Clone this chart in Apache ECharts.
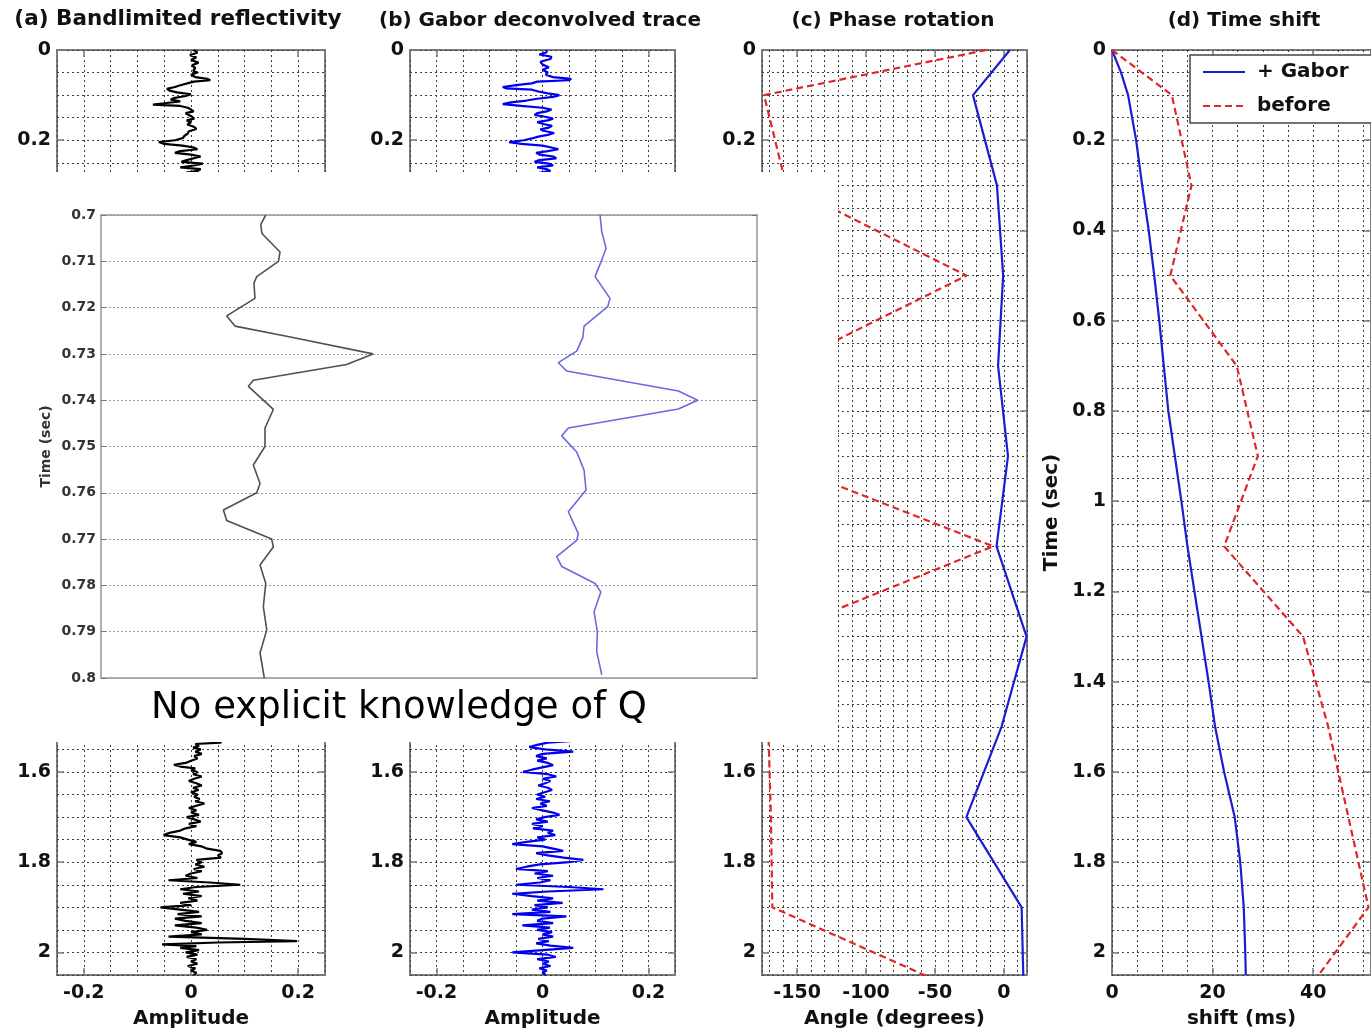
<!DOCTYPE html>
<html><head><meta charset="utf-8">
<script src="https://cdn.jsdelivr.net/npm/echarts@6/dist/echarts.min.js"></script>
<style>html,body{margin:0;padding:0;background:#fff}#c{width:1371px;height:1034px}</style>
</head><body><div id="c"></div>
<script>
// ---------------- DATA ----------------
// (a) bandlimited reflectivity: [time (s), amplitude]
const reflTop = [[0,0.005],[0.006,0.012],[0.011,-0.002],[0.016,0.01],[0.022,0.0],[0.028,0.014],[0.034,0.002],[0.04,0.008],[0.046,0.004],[0.05,0.012],[0.055,0.0],[0.06,0.008],[0.064,0.03],[0.067,0.036],[0.07,0.005],[0.074,-0.007],[0.078,-0.02],[0.082,-0.03],[0.086,-0.045],[0.09,-0.04],[0.094,-0.026],[0.098,0.0],[0.102,-0.01],[0.106,-0.03],[0.11,-0.038],[0.114,-0.02],[0.118,-0.05],[0.121,-0.071],[0.124,-0.02],[0.128,-0.006],[0.132,0.0],[0.136,0.005],[0.14,-0.01],[0.144,-0.012],[0.148,0.002],[0.152,0.006],[0.156,-0.008],[0.16,0.0],[0.165,-0.007],[0.17,0.005],[0.175,0.01],[0.18,-0.004],[0.185,-0.006],[0.19,-0.012],[0.195,-0.015],[0.2,-0.03],[0.204,-0.06],[0.208,-0.05],[0.212,-0.016],[0.216,0.005],[0.22,0.012],[0.224,-0.02],[0.228,-0.03],[0.232,0.0],[0.236,0.018],[0.24,0.02],[0.244,-0.008],[0.248,-0.018],[0.252,0.022],[0.256,0.005],[0.26,-0.02],[0.264,0.018],[0.268,0.012],[0.272,-0.01],[0.28,0.004]];
const reflBottom = [[1.52,0.01],[1.53,0.058],[1.535,0.055],[1.538,0.008],[1.542,0.015],[1.546,0.004],[1.55,0.018],[1.555,0.008],[1.56,0.02],[1.565,0.006],[1.57,0.012],[1.575,0.0],[1.58,-0.01],[1.584,-0.032],[1.588,-0.02],[1.592,0.008],[1.596,0.0],[1.6,0.012],[1.605,0.004],[1.61,0.02],[1.615,0.006],[1.62,-0.004],[1.625,0.01],[1.63,0.02],[1.635,0.004],[1.64,0.014],[1.645,0.0],[1.65,0.012],[1.655,0.006],[1.66,0.016],[1.665,0.008],[1.67,0.025],[1.675,0.01],[1.68,-0.004],[1.685,0.01],[1.69,0.0],[1.695,0.015],[1.7,-0.008],[1.705,0.006],[1.71,0.018],[1.715,-0.004],[1.72,0.01],[1.725,-0.01],[1.73,-0.02],[1.735,-0.04],[1.74,-0.051],[1.745,-0.02],[1.75,-0.006],[1.755,0.01],[1.76,-0.004],[1.765,0.02],[1.77,0.03],[1.775,0.055],[1.78,0.058],[1.785,0.05],[1.79,0.056],[1.795,0.01],[1.8,0.02],[1.805,0.008],[1.81,0.025],[1.815,0.005],[1.82,0.02],[1.825,0.0],[1.83,-0.01],[1.835,0.012],[1.84,-0.042],[1.845,0.035],[1.85,0.092],[1.855,0.01],[1.86,-0.02],[1.865,0.015],[1.87,-0.015],[1.875,0.02],[1.88,-0.005],[1.885,0.012],[1.89,-0.02],[1.895,0.0],[1.9,-0.057],[1.905,-0.02],[1.91,0.015],[1.915,-0.025],[1.92,0.02],[1.925,-0.03],[1.93,-0.01],[1.935,0.02],[1.94,-0.03],[1.945,0.01],[1.95,0.03],[1.955,0.0],[1.96,0.02],[1.965,-0.042],[1.97,0.1],[1.975,0.198],[1.978,0.05],[1.982,-0.054],[1.986,0.01],[1.99,-0.02],[1.995,0.015],[2.0,-0.01],[2.005,0.012],[2.01,-0.008],[2.015,0.01],[2.02,0.0],[2.025,0.012],[2.03,-0.006],[2.035,0.008],[2.04,0.0],[2.045,0.01],[2.05,0.005]];
// (b) Gabor deconvolved trace
const gaborTop = [[0,0.007],[0.005,0.008],[0.01,-0.006],[0.015,0.017],[0.02,0.015],[0.026,-0.004],[0.032,0.0],[0.038,0.012],[0.044,0.0],[0.05,0.01],[0.055,0.006],[0.06,0.02],[0.064,0.054],[0.067,0.05],[0.07,-0.01],[0.074,-0.02],[0.078,-0.05],[0.082,-0.075],[0.085,-0.069],[0.088,-0.02],[0.092,-0.008],[0.096,0.01],[0.1,0.032],[0.104,0.02],[0.108,-0.01],[0.112,-0.03],[0.116,-0.06],[0.12,-0.075],[0.124,-0.04],[0.128,0.0],[0.132,0.017],[0.136,0.008],[0.14,-0.01],[0.144,-0.015],[0.148,0.005],[0.152,0.02],[0.156,0.01],[0.16,-0.01],[0.164,0.002],[0.168,0.018],[0.172,0.012],[0.176,-0.004],[0.18,0.006],[0.184,0.022],[0.188,0.01],[0.192,-0.008],[0.196,-0.02],[0.2,-0.035],[0.204,-0.063],[0.208,-0.04],[0.212,0.0],[0.216,0.017],[0.22,0.03],[0.224,0.01],[0.228,-0.012],[0.232,-0.005],[0.236,0.02],[0.24,0.026],[0.244,-0.006],[0.248,-0.015],[0.252,0.012],[0.256,0.02],[0.26,-0.01],[0.264,0.008],[0.268,0.015],[0.272,-0.006],[0.28,0.005]];
const gaborBottom = [[1.52,0.02],[1.53,0.07],[1.535,0.01],[1.54,-0.01],[1.545,-0.025],[1.55,0.005],[1.555,0.058],[1.56,0.0],[1.565,-0.012],[1.57,0.008],[1.575,-0.01],[1.58,0.01],[1.585,0.02],[1.59,0.0],[1.595,-0.02],[1.6,-0.037],[1.605,0.01],[1.61,0.026],[1.615,0.0],[1.62,0.015],[1.625,0.005],[1.63,-0.008],[1.635,0.01],[1.64,0.018],[1.645,0.004],[1.65,-0.01],[1.655,0.005],[1.66,-0.012],[1.665,0.014],[1.67,-0.004],[1.675,0.008],[1.68,-0.02],[1.685,0.0],[1.69,0.02],[1.695,0.032],[1.7,0.004],[1.705,-0.012],[1.71,0.01],[1.715,-0.02],[1.72,0.0],[1.725,-0.018],[1.73,0.02],[1.735,0.01],[1.74,0.024],[1.745,-0.01],[1.75,0.005],[1.755,-0.03],[1.76,-0.057],[1.765,0.0],[1.77,0.02],[1.775,0.039],[1.78,-0.012],[1.785,0.01],[1.79,0.04],[1.795,0.077],[1.8,0.05],[1.805,-0.005],[1.81,-0.03],[1.815,-0.05],[1.82,0.01],[1.825,-0.015],[1.83,0.02],[1.835,-0.01],[1.84,0.015],[1.845,-0.005],[1.85,-0.05],[1.855,0.05],[1.86,0.115],[1.865,0.01],[1.87,-0.057],[1.875,-0.02],[1.88,0.02],[1.885,-0.01],[1.89,0.038],[1.895,-0.015],[1.9,0.01],[1.905,-0.02],[1.91,0.015],[1.915,-0.057],[1.92,0.045],[1.925,0.0],[1.93,-0.01],[1.935,0.02],[1.94,-0.038],[1.945,0.014],[1.95,-0.01],[1.955,0.018],[1.96,0.0],[1.965,0.02],[1.97,-0.008],[1.975,0.012],[1.98,-0.012],[1.985,0.015],[1.99,0.058],[1.995,0.0],[2.0,-0.057],[2.005,0.01],[2.01,0.025],[2.015,-0.01],[2.02,0.012],[2.025,0.0],[2.03,0.015],[2.035,-0.006],[2.04,0.008],[2.045,0.0],[2.05,0.006]];
// (c) phase rotation (degrees) at knot times
const phaseTimes  = [0, 0.1, 0.3, 0.5, 0.7, 0.9, 1.1, 1.3, 1.5, 1.7, 1.9, 2.1];
const phaseGabor  = [4.4, -22.4, -5.0, -0.5, -4.2, 3.0, -5.3, 16.5, -1.7, -27.2, 12.9, 14.5];
const phaseBefore = [-12.7, -174, -158, -27, -159, -175, -7.8, -170, -171, -169, -168, -21];
// (d) time shift (ms)
const shiftGaborTimes = [0, 0.05, 0.1, 0.2, 0.3, 0.4, 0.5, 0.6, 0.7, 0.8, 0.9, 1.0, 1.1, 1.2, 1.3, 1.4, 1.5, 1.6, 1.7, 1.8, 1.9, 2.0, 2.05];
const shiftGabor      = [0, 1.8, 3.2, 4.8, 6.0, 7.3, 8.4, 9.4, 10.3, 11.2, 12.5, 13.8, 15.0, 16.4, 17.8, 19.2, 20.5, 22.3, 24.4, 25.5, 26.2, 26.5, 26.6];
const shiftBeforeTimes = [0, 0.1, 0.3, 0.5, 0.7, 0.9, 1.1, 1.3, 1.5, 1.7, 1.9, 2.1];
const shiftBefore      = [0, 11.9, 15.8, 11.6, 24.8, 29.0, 22.3, 38.0, 43.0, 47.0, 51.0, 37.8];
// inset (0.7-0.8 s) traces: [time, relative amplitude]
const insetRefl = [[0.7,0.025],[0.702,-0.02],[0.704,-0.01],[0.708,0.155],[0.71,0.14],[0.7133,-0.057],[0.7147,-0.082],[0.718,-0.073],[0.7218,-0.33],[0.724,-0.255],[0.7262,0.215],[0.73,1.0],[0.7323,0.76],[0.7357,-0.088],[0.737,-0.133],[0.74,0.003],[0.742,0.094],[0.746,0.018],[0.75,0.018],[0.754,-0.088],[0.758,-0.027],[0.76,-0.057],[0.7637,-0.36],[0.766,-0.33],[0.77,0.079],[0.7717,0.094],[0.7756,-0.027],[0.7796,0.025],[0.7846,0.003],[0.7896,0.034],[0.7946,-0.027],[0.8,0.012]];
const insetGabor = [[0.7,0.018],[0.7036,0.034],[0.7072,0.073],[0.7097,0.034],[0.7133,-0.027],[0.718,0.109],[0.7198,0.088],[0.724,-0.127],[0.7265,-0.139],[0.7294,-0.194],[0.7319,-0.361],[0.7337,-0.285],[0.738,0.73],[0.74,0.906],[0.7419,0.73],[0.746,-0.27],[0.7477,-0.33],[0.7512,-0.194],[0.7551,-0.127],[0.7594,-0.109],[0.7641,-0.27],[0.7688,-0.179],[0.7703,-0.194],[0.7738,-0.376],[0.7759,-0.33],[0.7796,-0.027],[0.7814,0.025],[0.7857,-0.036],[0.79,-0.006],[0.7943,-0.012],[0.7993,0.034]];
const titles = ['(a) Bandlimited reflectivity', '(b) Gabor deconvolved trace', '(c) Phase rotation', '(d) Time shift'];

// ---------------- STYLE ----------------
const FONT = "'DejaVu Sans', sans-serif";
const TXT = '#111';
const BORDER = '#7c7c7c';
const GRIDC = '#3c3c3c';
const PANEL_TOP = 50, PANEL_H = 926.7;

const grids = [
  {left: 57, top: PANEL_TOP, width: 268, height: PANEL_H},
  {left: 410, top: PANEL_TOP, width: 265, height: PANEL_H},
  {left: 762, top: PANEL_TOP, width: 265, height: PANEL_H},
  {left: 1112, top: PANEL_TOP, width: 266, height: PANEL_H}
].map(g => Object.assign({show: true, borderColor: BORDER, borderWidth: 2, backgroundColor: 'transparent'}, g));
grids.push({left: 101, top: 215, width: 656, height: 463, show: true, borderColor: '#b0b0b0', borderWidth: 2, backgroundColor: '#fff', z: 60});

const xAxes = [], yAxes = [];
const lbl = {fontFamily: FONT, fontWeight: 'bold', fontSize: 19, color: TXT};
const nameStyle = {fontFamily: FONT, fontWeight: 'bold', fontSize: 20, color: TXT};
const tickStyle = {color: BORDER, width: 1.5};
const splitStyle = {show: true, lineStyle: {color: GRIDC, width: 1, type: [2, 3]}};
const noLine = {show: false, onZero: false};

function addPanel(gi, x, y) {
  xAxes.push({gridIndex: gi, type: 'value', position: 'bottom', min: x.min, max: x.max, minInterval: x.major, maxInterval: x.major,
    axisLine: noLine, axisTick: {show: true, inside: true, length: 7, lineStyle: tickStyle},
    axisLabel: Object.assign({show: true, margin: 9, showMinLabel: x.showMin, showMaxLabel: false}, lbl),
    splitLine: {show: false}, name: x.name, nameLocation: 'middle', nameGap: 34, nameTextStyle: nameStyle});
  xAxes.push({gridIndex: gi, type: 'value', position: 'top', min: x.min, max: x.max, minInterval: x.major, maxInterval: x.major,
    axisLine: noLine, axisTick: {show: true, inside: true, length: 7, lineStyle: tickStyle},
    axisLabel: {show: false}, splitLine: {show: false}});
  xAxes.push({gridIndex: gi, type: 'value', position: 'bottom', min: x.min, max: x.max, minInterval: x.minor, maxInterval: x.minor,
    axisLine: noLine, axisTick: {show: false}, axisLabel: {show: false}, splitLine: splitStyle});
  yAxes.push({gridIndex: gi, type: 'value', position: 'left', inverse: true, min: 0, max: 2.05, minInterval: 0.2, maxInterval: 0.2,
    axisLine: noLine, axisTick: {show: true, inside: true, length: 7, lineStyle: tickStyle},
    axisLabel: Object.assign({show: true, margin: 6, showMinLabel: true, showMaxLabel: false}, lbl),
    splitLine: {show: false}, name: y.name || '', nameLocation: 'middle', nameGap: 50, nameTextStyle: nameStyle});
  yAxes.push({gridIndex: gi, type: 'value', position: 'right', inverse: true, min: 0, max: 2.05, minInterval: 0.2, maxInterval: 0.2,
    axisLine: noLine, axisTick: {show: true, inside: true, length: 7, lineStyle: tickStyle},
    axisLabel: {show: false}, splitLine: {show: false}});
  yAxes.push({gridIndex: gi, type: 'value', position: 'left', inverse: true, min: 0, max: 2.05, interval: 0.05,
    axisLine: noLine, axisTick: {show: false}, axisLabel: {show: false}, splitLine: splitStyle});
}
addPanel(0, {min: -0.25, max: 0.25, major: 0.2, minor: 0.05, showMin: false, name: 'Amplitude'}, {});
addPanel(1, {min: -0.25, max: 0.25, major: 0.2, minor: 0.05, showMin: false, name: 'Amplitude'}, {});
addPanel(2, {min: -175.5, max: 16.8, major: 50, minor: 10, showMin: false, name: 'Angle (degrees)'}, {});
addPanel(3, {min: 0, max: 51.5, major: 20, minor: 5, showMin: true, name: 'shift (ms)'}, {name: 'Time (sec)'});

// inset axes (index 12, 13)
xAxes.push({gridIndex: 4, type: 'value', show: false, min: -1.4727, max: 4.4909, z: 61, axisLine: noLine});
xAxes.push({gridIndex: 4, type: 'value', show: false, min: -4.518, max: 1.445, z: 61, axisLine: noLine});
yAxes.push({gridIndex: 4, type: 'value', position: 'left', inverse: true, min: 0.7, max: 0.8, interval: 0.01, z: 61,
  axisLine: noLine, axisTick: {show: true, inside: true, length: 5, lineStyle: {color: '#777', width: 1}},
  axisLabel: {show: true, margin: 5, fontFamily: FONT, fontWeight: 'bold', fontSize: 14, color: '#333'},
  splitLine: {show: true, lineStyle: {color: '#9a9a9a', width: 1, type: [2, 2]}},
  name: 'Time (sec)', nameLocation: 'middle', nameGap: 48, nameTextStyle: {fontFamily: FONT, fontWeight: 'bold', fontSize: 14, color: '#333'}});
yAxes.push({gridIndex: 4, type: 'value', position: 'right', inverse: true, min: 0.7, max: 0.8, interval: 0.01, z: 61,
  axisLine: noLine, axisTick: {show: true, inside: true, length: 5, lineStyle: {color: '#777', width: 1}},
  axisLabel: {show: false}, splitLine: {show: false}});

const swap = arr => arr.map(p => [p[1], p[0]]);
const zipTA = (ts, vs) => ts.map((t, i) => [vs[i], t]);
const RED = '#e02626', BLUE = '#1c1cd0';
function line(name, data, xi, yi, color, width, type, extra) {
  return Object.assign({type: 'line', name, data, xAxisIndex: xi, yAxisIndex: yi, showSymbol: false, symbol: 'none',
    lineStyle: {color, width, type: type || 'solid'}, itemStyle: {color}, clip: true, animation: false}, extra || {});
}

const series = [
  line('reflTop', swap(reflTop), 0, 0, '#000', 2.2),
  line('reflBottom', swap(reflBottom), 0, 0, '#000', 2.2),
  line('gaborTop', swap(gaborTop), 3, 3, '#0000ee', 2.2),
  line('gaborBottom', swap(gaborBottom), 3, 3, '#0000ee', 2.2),
  line('phase + Gabor', zipTA(phaseTimes, phaseGabor), 6, 6, BLUE, 2.2),
  line('phase before', zipTA(phaseTimes, phaseBefore), 6, 6, RED, 2.2, [7, 4]),
  line('+ Gabor', zipTA(shiftGaborTimes, shiftGabor), 9, 9, BLUE, 2.2),
  line('before', zipTA(shiftBeforeTimes, shiftBefore), 9, 9, RED, 2.2, [7, 4]),
  line('insetRefl', swap(insetRefl), 12, 12, '#505050', 1.6, 'solid', {z: 62}),
  line('insetGabor', swap(insetGabor), 13, 12, '#6a6ae0', 1.6, 'solid', {z: 62})
];

const centers = [178, 540, 893, 1244];
const titleSizes = [21.5, 20, 20, 20];
const option = {
  animation: false,
  backgroundColor: '#fff',
  title: titles.map((t, i) => ({text: t, left: centers[i], top: i === 0 ? 8 : 11, textAlign: 'center', padding: 0,
    textStyle: {fontFamily: FONT, fontWeight: 'bold', fontSize: titleSizes[i], color: TXT}})),
  legend: {data: ['+ Gabor', 'before'], left: 1190, top: 55, orient: 'vertical', itemWidth: 42, itemHeight: 14, itemGap: 14,
    padding: [7, 10, 7, 12], borderWidth: 0, backgroundColor: 'transparent',
    itemStyle: {opacity: 0},
    formatter: n => ' ' + n, textStyle: {fontFamily: FONT, fontWeight: 'bold', fontSize: 20, color: TXT}, z: 12},
  grid: grids,
  xAxis: xAxes,
  yAxis: yAxes,
  series,
  graphic: [
    {type: 'rect', z: 11, silent: true, shape: {x: 1190, y: 55, width: 220, height: 68}, style: {fill: '#fff', stroke: '#444', lineWidth: 1.5}},
    {type: 'rect', z: 50, silent: true, shape: {x: 0, y: 172, width: 838, height: 570}, style: {fill: '#fff'}},
    {type: 'text', z: 70, x: 399, y: 708, style: {text: 'No explicit knowledge of Q', fontFamily: FONT, fontSize: 37, fill: '#000',
      align: 'center', verticalAlign: 'middle', textAlign: 'center', textVerticalAlign: 'middle'}}
  ]
};
const chart = echarts.init(document.getElementById('c'), null, {renderer: 'canvas'});
chart.setOption(option);
</script></body></html>
